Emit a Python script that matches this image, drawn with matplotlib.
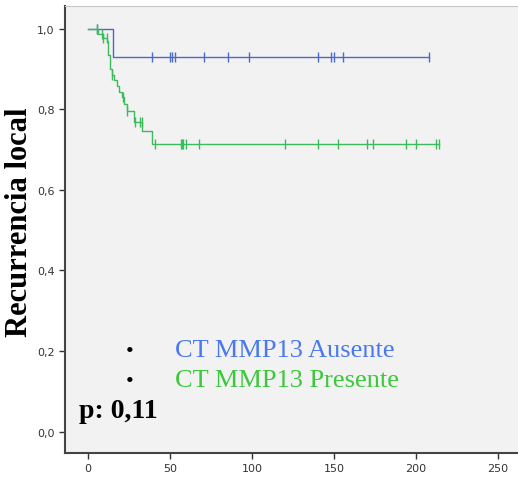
import matplotlib.pyplot as plt
import numpy as np

# --- data (time, survival after each event) ---
blue_event_t = [15.2]
blue_event_s = [0.930]
blue_censor_t = [5.7, 38.8, 50.0, 51.2, 53.0, 70.7, 85.4, 98.2, 140.2, 148.2, 150.0, 155.5, 207.9]

green_event_t = [6.0, 9.0, 11.5, 12.5, 13.3, 14.5, 16.0, 17.5, 19.0, 20.5, 22.0, 23.5, 28.0, 33.0, 38.8]
green_event_s = [0.988, 0.977, 0.970, 0.935, 0.900, 0.885, 0.872, 0.859, 0.843, 0.831, 0.814, 0.797,
                 0.768, 0.747, 0.714]
green_censor_t = [5.5, 8.4, 9.3, 11.4, 14.5, 21.5, 23.6, 28.7, 31.7, 32.7, 40.9, 56.7, 57.5, 58.1,
                  59.8, 67.9, 120.1, 140.1, 152.3, 169.9, 173.6, 193.9, 200.0, 212.2, 213.8]

labels = ["CT MMP13 Ausente", "CT MMP13 Presente"]
BLUE, GREEN = "#4a6cc8", "#3dbb5c"
TXT_BLUE, TXT_GREEN = "#4a78ee", "#3cc83c"


def km_steps(ev_t, ev_s, cens_t):
    end = max(max(cens_t), max(ev_t))
    t = np.r_[0.0, ev_t, end]
    s = np.r_[1.0, ev_s, ev_s[-1]]
    ct = np.asarray(cens_t)
    idx = np.searchsorted(np.r_[0.0, ev_t], ct, side="right") - 1
    cs = np.r_[1.0, ev_s][idx]
    return t, s, ct, cs


fig = plt.figure(figsize=(5.18, 4.81), dpi=100)
ax = fig.add_axes([65/518, 1-454/481, 1-65/518, (454-7)/481])
ax.set_facecolor("#f2f2f2")

for (et, es, ct), col in zip([(blue_event_t, blue_event_s, blue_censor_t),
                              (green_event_t, green_event_s, green_censor_t)], [BLUE, GREEN]):
    t, s, cx, cy = km_steps(et, es, ct)
    ax.plot(t, s, drawstyle="steps-post", color=col, lw=1.0)
    ax.plot(cx, cy, ls="none", marker="|", ms=7, mew=1.0, color=col)

ax.set_xlim(-14.0, 262.2)
ax.set_ylim(-0.0534, 1.057)
ax.set_xticks([0, 50, 100, 150, 200, 250])
ax.set_yticks([0, 0.2, 0.4, 0.6, 0.8, 1.0])
ax.set_yticklabels([f"{v:.1f}".replace(".", ",") for v in ax.get_yticks()])
ax.tick_params(length=4, width=1, colors="#333333", labelsize=8, labelcolor="#333333")
for sp in ["left", "bottom"]:
    ax.spines[sp].set_color("#444444"); ax.spines[sp].set_linewidth(1.5)
ax.spines["top"].set_color("#c8c8c8")
ax.spines["right"].set_visible(False)

fig.text(20/518, 1-222/481, "Recurrencia local", rotation=90, ha="center", va="center",
         family="Liberation Serif", fontweight="bold", fontsize=22)

for by, lab, col in zip([357, 387], labels, [TXT_BLUE, TXT_GREEN]):
    fig.text(130/518, 1-by/481, "•", ha="center", va="baseline", family="Liberation Serif", fontsize=16)
    fig.text(175/518, 1-by/481, lab, ha="left", va="baseline", color=col,
             family="Liberation Serif", fontsize=19)
fig.text(79/518, 1-418/481, "p: 0,11", ha="left", va="baseline", family="Liberation Serif",
         fontweight="bold", fontsize=20)

fig.savefig("out.png", dpi=100)
